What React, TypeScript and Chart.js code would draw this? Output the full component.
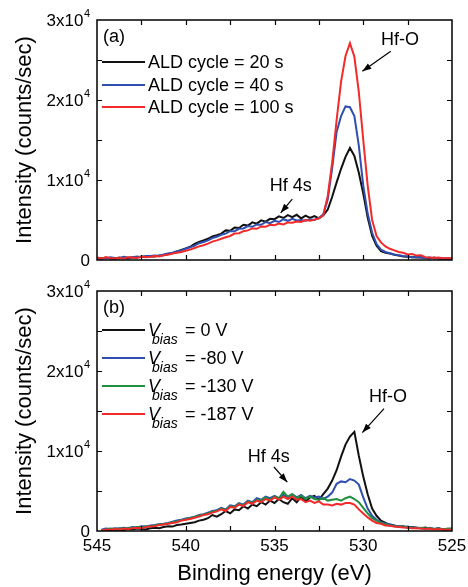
import React, { useEffect, useRef } from 'react';
import { Chart, registerables } from 'chart.js';

Chart.register(...registerables);

const FONT = '"Liberation Sans", Arial, Helvetica, sans-serif';

// Binding energy grid (eV)
const energies = [
  545, 544.75, 544.5, 544.25, 544, 543.75, 543.5, 543.25, 543, 542.75, 542.5, 542.25,
  542, 541.75, 541.5, 541.25, 541, 540.75, 540.5, 540.25, 540, 539.75, 539.5, 539.25,
  539, 538.75, 538.5, 538.25, 538, 537.75, 537.5, 537.25, 537, 536.75, 536.5, 536.25,
  536, 535.75, 535.5, 535.25, 535, 534.75, 534.5, 534.25, 534, 533.75, 533.5, 533.25,
  533, 532.75, 532.5, 532.25, 532, 531.75, 531.5, 531.25, 531, 530.75, 530.5, 530.25,
  530, 529.75, 529.5, 529.25, 529, 528.75, 528.5, 528.25, 528, 527.75, 527.5, 527.25,
  527, 526.75, 526.5, 526.25, 526, 525.75, 525.5, 525.25, 525,
];

// Panel (a): ALD cycle
const ald20 = [
  250, 150, 300, 200, 150, 300, 250, 200, 350, 300, 450, 400,
  450, 450, 550, 600, 750, 850, 1050, 1250, 1450, 1650, 2000, 2250,
  2450, 2650, 2950, 3100, 3300, 3700, 3650, 4050, 4000, 4400, 4300, 4700,
  4550, 4950, 4800, 5150, 5100, 5450, 5250, 5600, 5350, 5650, 5200, 5550,
  5250, 5500, 5200, 5600, 6300, 7900, 9700, 11400, 12900, 14000, 13000, 10900,
  8300, 5300, 3000, 1800, 1100, 900, 800, 650, 550, 450, 400, 350,
  300, 350, 250, 200, 300, 200, 150, 200, 150,
];
const ald40 = [
  150, 250, 200, 350, 250, 200, 400, 300, 350, 450, 350, 500,
  500, 550, 500, 700, 800, 900, 1100, 1200, 1400, 1600, 1800, 2100,
  2250, 2450, 2750, 2900, 3150, 3300, 3600, 3600, 3900, 3950, 4250, 4150,
  4450, 4400, 4750, 4600, 4900, 4750, 5100, 4900, 5150, 4950, 5000, 4900,
  5100, 5000, 5250, 5700, 7600, 11500, 16000, 18000, 19200, 19100, 18000, 14300,
  9300, 5800, 3400, 2000, 1300, 1000, 850, 700, 600, 500, 450, 350,
  400, 300, 250, 300, 200, 250, 200, 150, 200,
];
const ald100 = [
  300, 200, 350, 250, 200, 250, 200, 350, 300, 250, 400, 350,
  400, 500, 450, 600, 650, 800, 900, 1000, 1150, 1300, 1500, 1700,
  1850, 2050, 2300, 2450, 2650, 2850, 3000, 3300, 3350, 3600, 3700, 3950,
  3900, 4200, 4150, 4400, 4350, 4550, 4450, 4700, 4650, 4800, 4750, 5000,
  4900, 5050, 5200, 5600, 8000, 12200, 17500, 22300, 25500, 27100, 25400, 21000,
  15000, 9300, 5000, 3000, 2200, 1700, 1400, 1200, 1000, 900, 700, 750,
  550, 600, 350, 300, 250, 300, 200, 250, 200,
];

// Panel (b): V_bias
const bias0 = [
  null, 50, 150, 100, 200, 150, 100, 250, 200, 300, 250, 200,
  350, 400, 350, 500, 600, 550, 750, 800, 900, 1000, 1100, 1300,
  1400, 1600, 2000, 1800, 2100, 2500, 2200, 2700, 2600, 3100, 2800, 3300,
  3100, 3600, 3300, 3800, 3500, 4000, 3600, 3400, 4100, 3600, 4300, 3700,
  4200, 4400, 3900, 4600, 5300, 6300, 7600, 9300, 10800, 11800, 12400, 9400,
  6800, 4600, 2800, 1900, 1300, 1000, 800, 700, 550, 600, 450, 500,
  400, 350, 450, 300, 250, 350, 200, 250, 300,
];
const bias80 = [
  null, 150, 300, 250, 350, 300, 400, 350, 500, 450, 600, 550,
  700, 750, 850, 900, 1000, 1150, 1300, 1400, 1550, 1650, 1800, 2000,
  2100, 2300, 2500, 2600, 2900, 2700, 3200, 3100, 3500, 3300, 3800, 3600,
  4100, 3900, 4300, 4100, 4400, 4100, 4500, 4200, 4600, 4200, 4500, 4100,
  4400, 4200, 4300, 4000, 4300, 4800, 5900, 6200, 6100, 6500, 6300, 5800,
  4200, 2800, 1900, 1400, 1100, 900, 800, 650, 600, 500, 550, 400,
  450, 350, 300, 400, 250, 300, 200, 250, 200,
];
const bias130 = [
  null, 100, 200, 300, 200, 350, 250, 400, 350, 500, 450, 600,
  550, 700, 800, 850, 950, 1100, 1200, 1350, 1450, 1600, 1750, 1900,
  2050, 2200, 2400, 2500, 2800, 2600, 3100, 3000, 3400, 3200, 3700, 3500,
  3900, 3800, 4200, 3900, 4300, 4100, 4900, 4300, 4600, 4100, 4400, 4000,
  4300, 4000, 3900, 4100, 3800, 3900, 4000, 3800, 4100, 4300, 4000, 3600,
  2900, 2200, 1600, 1300, 1000, 850, 700, 600, 500, 550, 400, 450,
  350, 400, 300, 350, 250, 300, 200, 300, 250,
];
const bias187 = [
  null, 50, 200, 150, 250, 200, 300, 250, 350, 400, 350, 500,
  550, 600, 750, 800, 900, 1000, 1100, 1300, 1400, 1500, 1650, 1800,
  2000, 2100, 2300, 2450, 2700, 2500, 3000, 2900, 3300, 3100, 3600, 3400,
  3800, 3600, 4000, 3800, 4200, 3900, 4300, 4000, 4300, 3900, 4000, 3600,
  3800, 3500, 3700, 3300, 3300, 3200, 3400, 3300, 3500, 3500, 3300, 2700,
  2200, 1700, 1300, 1000, 900, 700, 650, 550, 500, 450, 400, 350,
  350, 300, 250, 300, 200, 250, 200, 150, 200,
];

// Axes / ticks
const xTickLabels = [545, 540, 535, 530, 525];
const xTickMarks = [542.5, 540, 537.5, 535, 532.5, 530, 527.5];
const yTickValues = [0, 10000, 20000, 30000];
const yTickBases = ['0', '1x10', '2x10', '3x10'];
const yTickExps = ['', '4', '4', '4'];
const yTickMarks = [5000, 10000, 15000, 20000, 25000];

const legendA = ['ALD cycle = 20 s', 'ALD cycle = 40 s', 'ALD cycle = 100 s'];
const legendB = ['0', '-80', '-130', '-187'];

const BLACK = '#111111';
const BLUE = '#2f4fb0';
const RED = '#f22a2a';
const GREEN = '#1f8f3f';

const annotationsA = [
  { text: 'Hf-O', tx: 527.93, ty: 27500, x1: 528.45, y1: 26100, x2: 530.05, y2: 23600 },
  { text: 'Hf 4s', tx: 534.08, ty: 9200, x1: 534.0, y1: 7600, x2: 534.65, y2: 5900 },
];
const annotationsB = [
  { text: 'Hf-O', tx: 528.6, ty: 16800, x1: 528.83, y1: 15300, x2: 530.05, y2: 12300 },
  { text: 'Hf 4s', tx: 535.33, ty: 9300, x1: 535.03, y1: 8000, x2: 534.28, y2: 6100 },
];

function toPoints(vals: (number | null)[]) {
  return energies.map((e, i) => ({ x: e, y: vals[i] }));
}

function drawArrow(ctx: CanvasRenderingContext2D, x1: number, y1: number, x2: number, y2: number) {
  ctx.beginPath();
  ctx.moveTo(x1, y1);
  ctx.lineTo(x2, y2);
  ctx.stroke();
  const ang = Math.atan2(y2 - y1, x2 - x1);
  const L = 9;
  const W = 3.2;
  const c = Math.cos(ang);
  const s = Math.sin(ang);
  ctx.beginPath();
  ctx.moveTo(x2, y2);
  ctx.lineTo(x2 - L * c + W * s, y2 - L * s - W * c);
  ctx.lineTo(x2 - L * c - W * s, y2 - L * s + W * c);
  ctx.closePath();
  ctx.fill();
}

type PanelCfg = {
  label: string;
  kind: 'a' | 'b';
  legendColors: string[];
  annotations: typeof annotationsA;
  showX: boolean;
};

function makePlugin(cfg: PanelCfg) {
  return {
    id: 'panel' + cfg.kind,
    afterDraw(chart: any) {
      const ctx: CanvasRenderingContext2D = chart.ctx;
      const { left, right, top, bottom } = chart.chartArea;
      const xs = chart.scales.x;
      const ys = chart.scales.y;
      ctx.save();
      ctx.strokeStyle = '#000';
      ctx.fillStyle = '#000';
      // frame
      ctx.lineWidth = 1.5;
      ctx.strokeRect(left, top, right - left, bottom - top);
      // ticks
      ctx.lineWidth = 1.2;
      const TL = 5;
      ctx.beginPath();
      xTickMarks.forEach((v) => {
        const px = Math.round(xs.getPixelForValue(v)) + 0.5;
        ctx.moveTo(px, bottom);
        ctx.lineTo(px, bottom - TL);
        ctx.moveTo(px, top);
        ctx.lineTo(px, top + TL);
      });
      yTickMarks.forEach((v) => {
        const py = Math.round(ys.getPixelForValue(v)) + 0.5;
        ctx.moveTo(left, py);
        ctx.lineTo(left + TL, py);
        ctx.moveTo(right, py);
        ctx.lineTo(right - TL, py);
      });
      ctx.stroke();
      // y tick labels
      ctx.textBaseline = 'middle';
      yTickValues.forEach((v, i) => {
        const py = ys.getPixelForValue(v);
        const base = yTickBases[i];
        const exp = yTickExps[i];
        ctx.font = `17px ${FONT}`;
        const bw = ctx.measureText(base).width;
        ctx.font = `11px ${FONT}`;
        const ew = exp ? ctx.measureText(exp).width + 0.5 : 0;
        const rightEdge = left - 7;
        const x0 = rightEdge - bw - ew;
        ctx.font = `17px ${FONT}`;
        ctx.textAlign = 'left';
        ctx.fillText(base, x0, py + 1);
        if (exp) {
          ctx.font = `11px ${FONT}`;
          ctx.fillText(exp, x0 + bw + 0.5, py - 6);
        }
      });
      // x tick labels
      if (cfg.showX) {
        ctx.font = `17px ${FONT}`;
        ctx.textAlign = 'center';
        ctx.textBaseline = 'middle';
        xTickLabels.forEach((v) => {
          ctx.fillText(String(v), xs.getPixelForValue(v), bottom + 15);
        });
        ctx.font = `22px ${FONT}`;
        ctx.fillText('Binding energy (eV)', (left + right) / 2, bottom + 43);
      }
      // y title
      ctx.save();
      ctx.translate(25, (top + bottom) / 2);
      ctx.rotate(-Math.PI / 2);
      ctx.font = `22px ${FONT}`;
      ctx.textAlign = 'center';
      ctx.textBaseline = 'middle';
      ctx.fillText('Intensity (counts/sec)', 0, 0);
      ctx.restore();
      // panel label
      ctx.font = `18px ${FONT}`;
      ctx.textAlign = 'left';
      ctx.textBaseline = 'middle';
      ctx.fillText(cfg.label, left + 6, top + 17);
      // legend
      const lx0 = left + 5;
      const lx1 = left + 48;
      const tx = left + 51;
      if (cfg.kind === 'a') {
        const rows = [42, 65, 87];
        legendA.forEach((t, i) => {
          const y = top + rows[i];
          ctx.strokeStyle = cfg.legendColors[i];
          ctx.lineWidth = 2;
          ctx.beginPath();
          ctx.moveTo(lx0, y);
          ctx.lineTo(lx1, y);
          ctx.stroke();
          ctx.fillStyle = '#000';
          ctx.font = `18px ${FONT}`;
          ctx.fillText(t, tx, y + 1);
        });
      } else {
        const rows = [39, 67, 95, 123];
        legendB.forEach((t, i) => {
          const y = top + rows[i];
          ctx.strokeStyle = cfg.legendColors[i];
          ctx.lineWidth = 2;
          ctx.beginPath();
          ctx.moveTo(lx0, y);
          ctx.lineTo(lx1, y);
          ctx.stroke();
          ctx.fillStyle = '#000';
          ctx.font = `italic 18px ${FONT}`;
          ctx.fillText('V', tx, y + 1);
          ctx.font = `italic 14px ${FONT}`;
          ctx.fillText('bias', tx + 4, y + 10);
          ctx.font = `18px ${FONT}`;
          ctx.fillText(`= ${t} V`, tx + 37, y + 1);
        });
      }
      // annotations
      ctx.strokeStyle = '#000';
      ctx.fillStyle = '#000';
      ctx.lineWidth = 1.2;
      cfg.annotations.forEach((a) => {
        ctx.font = `18px ${FONT}`;
        ctx.textAlign = 'center';
        ctx.textBaseline = 'middle';
        ctx.fillText(a.text, xs.getPixelForValue(a.tx), ys.getPixelForValue(a.ty));
        drawArrow(
          ctx,
          xs.getPixelForValue(a.x1),
          ys.getPixelForValue(a.y1),
          xs.getPixelForValue(a.x2),
          ys.getPixelForValue(a.y2)
        );
      });
      ctx.restore();
    },
  };
}

function baseOptions(padding: any) {
  return {
    responsive: false,
    animation: false as const,
    events: [] as any[],
    layout: { padding },
    plugins: { legend: { display: false }, tooltip: { enabled: false } },
    elements: { point: { radius: 0 }, line: { borderWidth: 2, tension: 0 } },
    scales: {
      x: { type: 'linear' as const, min: 525, max: 545, reverse: true, display: false },
      y: { type: 'linear' as const, min: 0, max: 30000, display: false },
    },
  };
}

export default function App() {
  const topRef = useRef<HTMLCanvasElement>(null);
  const botRef = useRef<HTMLCanvasElement>(null);

  useEffect(() => {
    const top = new Chart(topRef.current as HTMLCanvasElement, {
      type: 'line',
      data: {
        datasets: [
          { label: legendA[2], data: toPoints(ald100), borderColor: RED, borderWidth: 2 },
          { label: legendA[1], data: toPoints(ald40), borderColor: BLUE, borderWidth: 2 },
          { label: legendA[0], data: toPoints(ald20), borderColor: BLACK, borderWidth: 2 },
        ],
      },
      options: baseOptions({ left: 97, right: 16, top: 20, bottom: 15 }) as any,
      plugins: [
        makePlugin({
          label: '(a)',
          kind: 'a',
          legendColors: [BLACK, BLUE, RED],
          annotations: annotationsA,
          showX: false,
        }),
      ],
    });
    const bot = new Chart(botRef.current as HTMLCanvasElement, {
      type: 'line',
      data: {
        datasets: [
          { label: 'V = -187 V', data: toPoints(bias187), borderColor: RED, borderWidth: 2 },
          { label: 'V = -130 V', data: toPoints(bias130), borderColor: GREEN, borderWidth: 2 },
          { label: 'V = -80 V', data: toPoints(bias80), borderColor: BLUE, borderWidth: 2 },
          { label: 'V = 0 V', data: toPoints(bias0), borderColor: BLACK, borderWidth: 2 },
        ],
      },
      options: baseOptions({ left: 97, right: 16, top: 16, bottom: 56 }) as any,
      plugins: [
        makePlugin({
          label: '(b)',
          kind: 'b',
          legendColors: [BLACK, BLUE, GREEN, RED],
          annotations: annotationsB,
          showX: true,
        }),
      ],
    });
    return () => {
      top.destroy();
      bot.destroy();
    };
  }, []);

  return (
    <div
      style={{
        position: 'absolute',
        left: 0,
        top: 0,
        width: 468,
        height: 587,
        background: '#fff',
      }}
    >
      <canvas ref={topRef} width={468} height={275} style={{ display: 'block' }} />
      <canvas ref={botRef} width={468} height={312} style={{ display: 'block' }} />
    </div>
  );
}
